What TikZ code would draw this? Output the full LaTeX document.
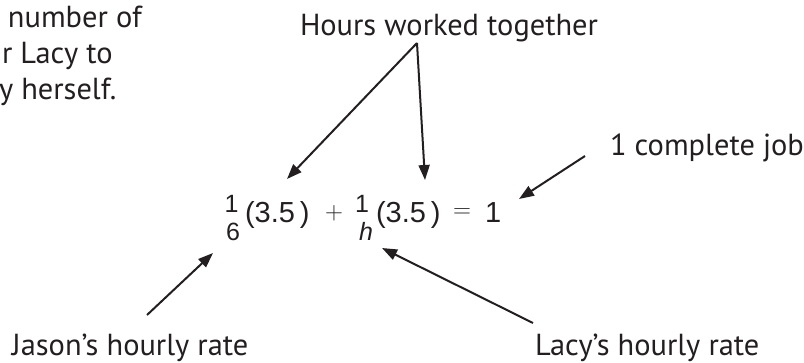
\documentclass[tikz,border=0pt]{standalone}
\usepackage{fontspec}
\setmainfont{PT Sans}
\newfontfamily\eqfont{Liberation Sans}
\usetikzlibrary{arrows.meta}
\definecolor{ink}{HTML}{231F20}
\newlength\hwwidth
\AtBeginDocument{%
  \settowidth\hwwidth{\fontsize{30pt}{36pt}\selectfont Hours worked together}%
  \pgfmathsetmacro\labsize{30*298/\hwwidth}%
  \xdef\labsize{\labsize}}
\begin{document}
\begin{tikzpicture}[x=1pt,y=-1pt,
  lab/.style={anchor=base west, inner sep=0pt, outer sep=0pt, text=ink,
    font=\fontsize{\labsize}{\labsize}\selectfont},
  eqmain/.style={anchor=base west, inner sep=0pt, outer sep=0pt, text=ink,
    font=\eqfont\fontsize{29}{29}\selectfont},
  eqsmall/.style={anchor=base, inner sep=0pt, outer sep=0pt, text=ink,
    font=\eqfont\fontsize{25}{25}\selectfont},
  eqop/.style={anchor=center, inner sep=0pt, outer sep=0pt, text=ink,
    font=\fontsize{26}{26}\selectfont},
  arr/.style={draw=ink, line width=2pt, -{Triangle[length=15pt,width=11pt]}}]
\useasboundingbox (0,0) rectangle (804,362);
\clip (0,0) rectangle (804,362);
% labels
\node[lab] (hours) at (300,35) {Hours worked together};
\node[lab] (top1) at (8,27) {number of};
\node[lab] (top2) at (2,63) {r Lacy to};
\node[lab] (top3) at (-1,99) {y herself.};
\node[lab] (job) at (610,155) {1 complete job};
\node[lab] (jason) at (12,355) {Jason’s hourly rate};
\node[lab] (lacy) at (535,355) {Lacy’s hourly rate};
% equation
\node[eqsmall] (n1) at (231.5,212) {1};
\node[eqsmall] (d1) at (233,240) {6};
\node[eqmain] (p1) at (245,222) {(3.5\,)};
\node[eqop] (plus) at (334,213) {$+$};
\node[eqsmall] (n2) at (362,212) {1};
\node[eqsmall] (d2) at (366,240) {\itshape h};
\node[eqmain] (p2) at (376,222) {(3.5\,)};
\node[eqop] (eqsign) at (462,213) {$=$};
\node[eqmain] (one) at (485,222) {1};
% connectors
\coordinate (apex) at (417,43);
\coordinate (tipL) at (287,179);
\coordinate (tipR) at (425,180);
\coordinate (jtail) at (147,315);
\coordinate (jtip) at (213,253);
\coordinate (ltail) at (533,323);
\coordinate (ltip) at (382,248);
\coordinate (jobtail) at (585,156);
\coordinate (jobtip) at (519,199);
\draw[arr] (apex) -- (tipL);
\draw[arr] (apex) -- (tipR);
\draw[arr] (jtail) -- (jtip);
\draw[arr] (ltail) -- (ltip);
\draw[arr] (jobtail) -- (jobtip);
\end{tikzpicture}
\end{document}
